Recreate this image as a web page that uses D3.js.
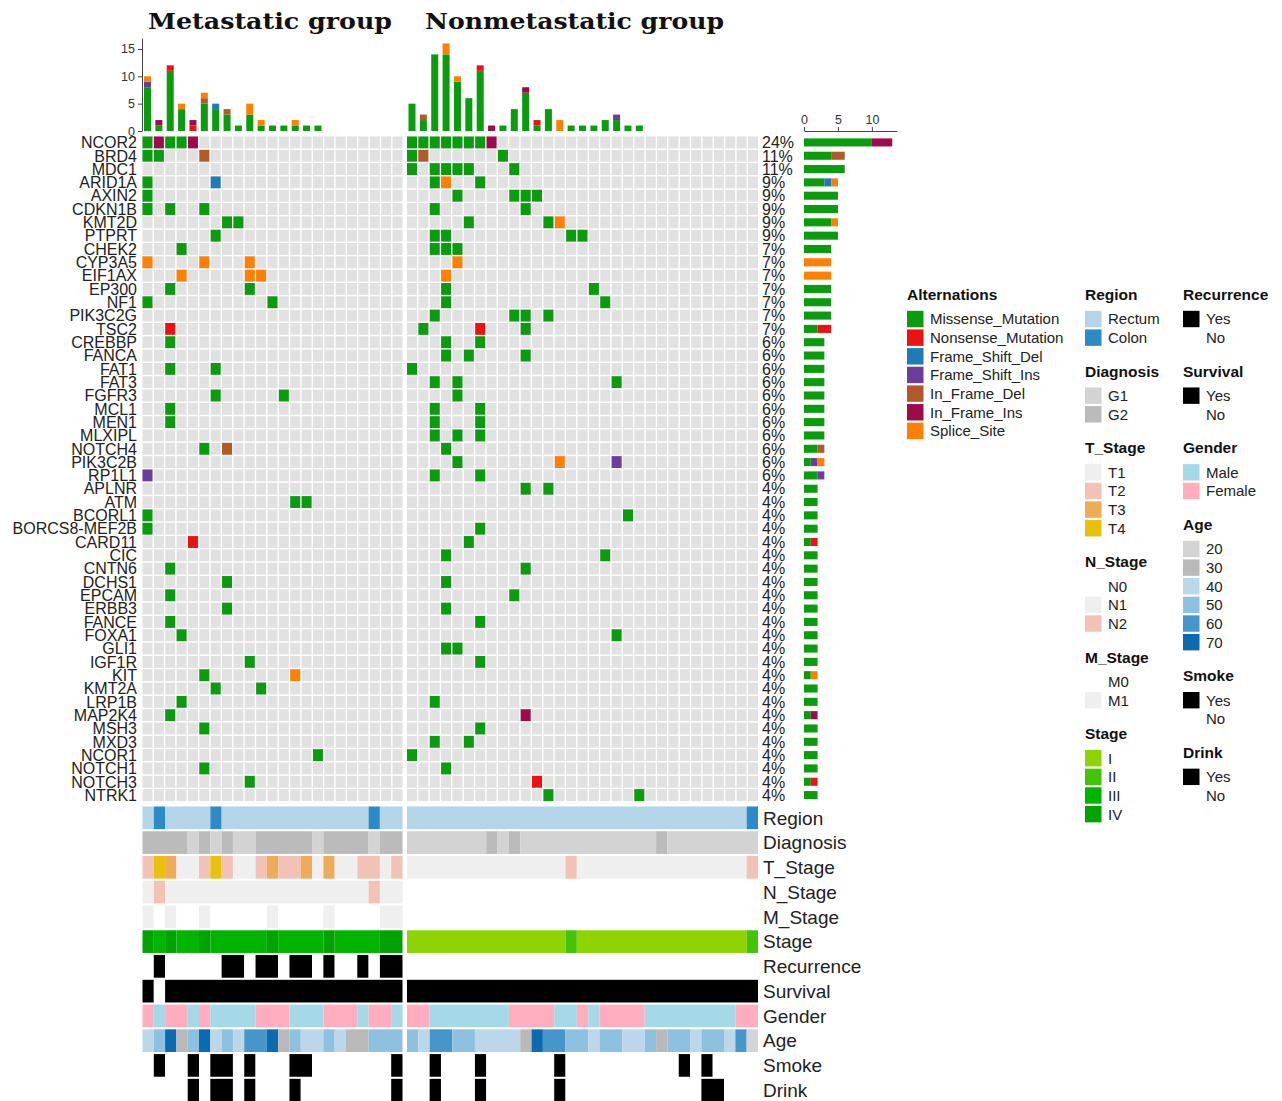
<!DOCTYPE html>
<html>
<head>
<meta charset="utf-8">
<script src="https://cdn.jsdelivr.net/npm/d3@7"></script>
<style>
  body { margin: 0; background: #fff; }
  text { font-family: "Liberation Sans", Arial, Helvetica, sans-serif; }
</style>
</head>
<body>
<svg id="chart" width="1282" height="1101"></svg>
<script>
// ---------- data ----------
const genes = ["NCOR2","BRD4","MDC1","ARID1A","AXIN2","CDKN1B","KMT2D","PTPRT","CHEK2","CYP3A5",
  "EIF1AX","EP300","NF1","PIK3C2G","TSC2","CREBBP","FANCA","FAT1","FAT3","FGFR3",
  "MCL1","MEN1","MLXIPL","NOTCH4","PIK3C2B","RP1L1","APLNR","ATM","BCORL1","BORCS8-MEF2B",
  "CARD11","CIC","CNTN6","DCHS1","EPCAM","ERBB3","FANCE","FOXA1","GLI1","IGF1R",
  "KIT","KMT2A","LRP1B","MAP2K4","MSH3","MXD3","NCOR1","NOTCH1","NOTCH3","NTRK1"];

const groupNames = ["Metastatic group", "Nonmetastatic group"];
const groupSizes = [23, 31];

const mutationTypes = ["Missense_Mutation","Nonsense_Mutation","Frame_Shift_Del","Frame_Shift_Ins",
  "In_Frame_Del","In_Frame_Ins","Splice_Site"];
const mutationCodes = ["MS","NS","FD","FI","ID","II","SS"];
const mutationColors = ["#0a9c0e","#ee1111","#1f7ab8","#6c3d9c","#b2592a","#9e0a4c","#ff7f00"];

// [gene, sample index in group, mutation code]
const metastaticMutations = [
  ["NCOR2",0,"MS"],["NCOR2",1,"II"],["NCOR2",2,"MS"],["NCOR2",3,"MS"],["NCOR2",4,"II"],
  ["BRD4",0,"MS"],["BRD4",1,"MS"],["BRD4",5,"ID"],
  ["ARID1A",0,"MS"],["ARID1A",6,"FD"],
  ["AXIN2",0,"MS"],
  ["CDKN1B",0,"MS"],["CDKN1B",2,"MS"],["CDKN1B",5,"MS"],
  ["KMT2D",7,"MS"],["KMT2D",8,"MS"],
  ["PTPRT",6,"MS"],
  ["CHEK2",3,"MS"],
  ["CYP3A5",0,"SS"],["CYP3A5",5,"SS"],["CYP3A5",9,"SS"],
  ["EIF1AX",3,"SS"],["EIF1AX",9,"SS"],["EIF1AX",10,"SS"],
  ["EP300",2,"MS"],["EP300",9,"MS"],
  ["NF1",0,"MS"],["NF1",11,"MS"],
  ["TSC2",2,"NS"],
  ["CREBBP",2,"MS"],
  ["FAT1",2,"MS"],["FAT1",6,"MS"],
  ["FGFR3",6,"MS"],["FGFR3",12,"MS"],
  ["MCL1",2,"MS"],
  ["MEN1",2,"MS"],
  ["NOTCH4",5,"MS"],["NOTCH4",7,"ID"],
  ["RP1L1",0,"FI"],
  ["ATM",13,"MS"],["ATM",14,"MS"],
  ["BCORL1",0,"MS"],
  ["BORCS8-MEF2B",0,"MS"],
  ["CARD11",4,"NS"],
  ["CNTN6",2,"MS"],
  ["DCHS1",7,"MS"],
  ["EPCAM",2,"MS"],
  ["ERBB3",7,"MS"],
  ["FANCE",2,"MS"],
  ["FOXA1",3,"MS"],
  ["IGF1R",9,"MS"],
  ["KIT",5,"MS"],["KIT",13,"SS"],
  ["KMT2A",6,"MS"],["KMT2A",10,"MS"],
  ["LRP1B",3,"MS"],
  ["MAP2K4",2,"MS"],
  ["MSH3",5,"MS"],
  ["NCOR1",15,"MS"],
  ["NOTCH1",5,"MS"],
  ["NOTCH3",9,"MS"]
];

const nonmetastaticMutations = [
  ["NCOR2",0,"MS"],["NCOR2",1,"MS"],["NCOR2",2,"MS"],["NCOR2",3,"MS"],["NCOR2",4,"MS"],
  ["NCOR2",5,"MS"],["NCOR2",6,"MS"],["NCOR2",7,"II"],
  ["BRD4",0,"MS"],["BRD4",1,"ID"],["BRD4",8,"MS"],
  ["MDC1",0,"MS"],["MDC1",2,"MS"],["MDC1",3,"MS"],["MDC1",4,"MS"],["MDC1",5,"MS"],["MDC1",9,"MS"],
  ["ARID1A",2,"MS"],["ARID1A",3,"SS"],["ARID1A",6,"MS"],
  ["AXIN2",4,"MS"],["AXIN2",9,"MS"],["AXIN2",10,"MS"],["AXIN2",11,"MS"],
  ["CDKN1B",2,"MS"],["CDKN1B",10,"MS"],
  ["KMT2D",5,"MS"],["KMT2D",12,"MS"],["KMT2D",13,"SS"],
  ["PTPRT",2,"MS"],["PTPRT",3,"MS"],["PTPRT",14,"MS"],["PTPRT",15,"MS"],
  ["CHEK2",2,"MS"],["CHEK2",3,"MS"],["CHEK2",4,"MS"],
  ["CYP3A5",4,"SS"],
  ["EIF1AX",3,"SS"],
  ["EP300",3,"MS"],["EP300",16,"MS"],
  ["NF1",3,"MS"],["NF1",17,"MS"],
  ["PIK3C2G",2,"MS"],["PIK3C2G",9,"MS"],["PIK3C2G",10,"MS"],["PIK3C2G",12,"MS"],
  ["TSC2",1,"MS"],["TSC2",6,"NS"],["TSC2",10,"MS"],
  ["CREBBP",3,"MS"],["CREBBP",6,"MS"],
  ["FANCA",3,"MS"],["FANCA",5,"MS"],["FANCA",10,"MS"],
  ["FAT1",0,"MS"],
  ["FAT3",2,"MS"],["FAT3",4,"MS"],["FAT3",18,"MS"],
  ["FGFR3",4,"MS"],
  ["MCL1",2,"MS"],["MCL1",6,"MS"],
  ["MEN1",2,"MS"],["MEN1",6,"MS"],
  ["MLXIPL",2,"MS"],["MLXIPL",4,"MS"],["MLXIPL",6,"MS"],
  ["NOTCH4",3,"MS"],
  ["PIK3C2B",4,"MS"],["PIK3C2B",13,"SS"],["PIK3C2B",18,"FI"],
  ["RP1L1",2,"MS"],["RP1L1",6,"MS"],
  ["APLNR",10,"MS"],["APLNR",12,"MS"],
  ["BCORL1",19,"MS"],
  ["BORCS8-MEF2B",6,"MS"],
  ["CARD11",5,"MS"],
  ["CIC",3,"MS"],["CIC",17,"MS"],
  ["CNTN6",10,"MS"],
  ["DCHS1",3,"MS"],
  ["EPCAM",9,"MS"],
  ["ERBB3",3,"MS"],
  ["FANCE",6,"MS"],
  ["FOXA1",18,"MS"],
  ["GLI1",3,"MS"],["GLI1",4,"MS"],
  ["IGF1R",6,"MS"],
  ["LRP1B",2,"MS"],
  ["MAP2K4",10,"II"],
  ["MSH3",6,"MS"],
  ["MXD3",2,"MS"],["MXD3",5,"MS"],
  ["NCOR1",0,"MS"],
  ["NOTCH1",3,"MS"],
  ["NOTCH3",11,"NS"],
  ["NTRK1",12,"MS"],["NTRK1",20,"MS"]
];

// clinical annotations, one value per sample
const regionMet = ["Rectum","Colon","Rectum","Rectum","Rectum","Rectum","Colon","Rectum","Rectum","Rectum","Rectum","Rectum","Rectum","Rectum","Rectum","Rectum","Rectum","Rectum","Rectum","Rectum","Colon","Rectum","Rectum"];
const regionNon = ["Rectum","Rectum","Rectum","Rectum","Rectum","Rectum","Rectum","Rectum","Rectum","Rectum","Rectum","Rectum","Rectum","Rectum","Rectum","Rectum","Rectum","Rectum","Rectum","Rectum","Rectum","Rectum","Rectum","Rectum","Rectum","Rectum","Rectum","Rectum","Rectum","Rectum","Colon"];
const diagnosisMet = ["G2","G2","G2","G2","G1","G2","G1","G2","G1","G1","G2","G2","G2","G2","G2","G1","G2","G2","G2","G2","G1","G2","G2"];
const diagnosisNon = ["G1","G1","G1","G1","G1","G1","G1","G2","G1","G2","G1","G1","G1","G1","G1","G1","G1","G1","G1","G1","G1","G1","G2","G1","G1","G1","G1","G1","G1","G1","G1"];
const tStageMet = ["T2","T4","T3","T1","T1","T2","T4","T2","T1","T1","T2","T3","T2","T2","T3","T1","T3","T1","T1","T2","T2","T1","T2"];
const tStageNon = ["T1","T1","T1","T1","T1","T1","T1","T1","T1","T1","T1","T1","T1","T1","T2","T1","T1","T1","T1","T1","T1","T1","T1","T1","T1","T1","T1","T1","T1","T1","T2"];
const nStageMet = ["N1","N2","N1","N1","N1","N1","N1","N1","N1","N1","N1","N1","N1","N1","N1","N1","N1","N1","N1","N1","N2","N1","N1"];
const nStageNon = ["N0","N0","N0","N0","N0","N0","N0","N0","N0","N0","N0","N0","N0","N0","N0","N0","N0","N0","N0","N0","N0","N0","N0","N0","N0","N0","N0","N0","N0","N0","N0"];
const mStageMet = ["M1","M0","M1","M0","M0","M1","M0","M0","M0","M0","M0","M1","M0","M0","M0","M0","M1","M0","M0","M0","M0","M1","M1"];
const mStageNon = ["M0","M0","M0","M0","M0","M0","M0","M0","M0","M0","M0","M0","M0","M0","M0","M0","M0","M0","M0","M0","M0","M0","M0","M0","M0","M0","M0","M0","M0","M0","M0"];
const stageMet = ["IV","III","IV","III","III","IV","III","III","III","III","III","IV","III","III","III","III","IV","III","III","III","III","IV","IV"];
const stageNon = ["I","I","I","I","I","I","I","I","I","I","I","I","I","I","II","I","I","I","I","I","I","I","I","I","I","I","I","I","I","I","II"];
const recurrenceMet = ["No","Yes","No","No","No","No","No","Yes","Yes","No","Yes","Yes","No","Yes","Yes","No","Yes","No","No","Yes","No","Yes","Yes"];
const recurrenceNon = ["No","No","No","No","No","No","No","No","No","No","No","No","No","No","No","No","No","No","No","No","No","No","No","No","No","No","No","No","No","No","No"];
const survivalMet = ["Yes","No","Yes","Yes","Yes","Yes","Yes","Yes","Yes","Yes","Yes","Yes","Yes","Yes","Yes","Yes","Yes","Yes","Yes","Yes","Yes","Yes","Yes"];
const survivalNon = ["Yes","Yes","Yes","Yes","Yes","Yes","Yes","Yes","Yes","Yes","Yes","Yes","Yes","Yes","Yes","Yes","Yes","Yes","Yes","Yes","Yes","Yes","Yes","Yes","Yes","Yes","Yes","Yes","Yes","Yes","Yes"];
const genderMet = ["Female","Male","Female","Female","Male","Female","Male","Male","Male","Male","Female","Female","Female","Male","Male","Male","Female","Female","Female","Male","Female","Female","Male"];
const genderNon = ["Female","Female","Male","Male","Male","Male","Male","Male","Male","Female","Female","Female","Female","Male","Male","Female","Male","Female","Female","Female","Female","Male","Male","Male","Male","Male","Male","Male","Male","Female","Female"];
const ageMet = [40,50,70,30,50,70,40,50,40,60,60,70,30,50,40,40,50,40,30,30,50,50,50];
const ageNon = [50,40,60,60,50,50,40,40,40,40,30,70,60,60,50,50,40,50,50,40,40,50,30,50,50,40,50,50,40,60,20];
const smokeMet = ["No","Yes","No","No","Yes","No","Yes","Yes","No","Yes","No","No","No","Yes","Yes","No","No","No","No","No","No","No","Yes"];
const smokeNon = ["No","No","Yes","No","No","No","Yes","No","No","No","No","No","No","Yes","No","No","No","No","No","No","No","No","No","No","Yes","No","Yes","No","No","No","No"];
const drinkMet = ["No","No","No","No","Yes","No","Yes","Yes","No","Yes","No","No","No","Yes","No","No","No","No","No","No","No","No","Yes"];
const drinkNon = ["No","No","Yes","No","No","No","Yes","No","No","No","No","No","No","Yes","No","No","No","No","No","No","No","No","No","No","No","No","Yes","Yes","No","No","No"];

const trackNames = ["Region","Diagnosis","T_Stage","N_Stage","M_Stage","Stage","Recurrence","Survival","Gender","Age","Smoke","Drink"];
const trackValues = [
  [regionMet, regionNon], [diagnosisMet, diagnosisNon], [tStageMet, tStageNon], [nStageMet, nStageNon],
  [mStageMet, mStageNon], [stageMet, stageNon], [recurrenceMet, recurrenceNon], [survivalMet, survivalNon],
  [genderMet, genderNon], [ageMet, ageNon], [smokeMet, smokeNon], [drinkMet, drinkNon]
];

// legend categories and colours for each clinical track
const regionLevels = ["Rectum","Colon"], regionColors = ["#b4d4e7","#2c8ac6"];
const diagnosisLevels = ["G1","G2"], diagnosisColors = ["#d3d3d3","#bbbbbb"];
const tStageLevels = ["T1","T2","T3","T4"], tStageColors = ["#efefef","#f3c2b7","#eeac5a","#e9c00e"];
const nStageLevels = ["N0","N1","N2"], nStageColors = ["#ffffff","#efefef","#f3c2b7"];
const mStageLevels = ["M0","M1"], mStageColors = ["#ffffff","#efefef"];
const stageLevels = ["I","II","III","IV"], stageColors = ["#8dd400","#45c20a","#00b400","#00a300"];
const yesNoLevels = ["Yes","No"], yesNoColors = ["#000000","#ffffff"];
const genderLevels = ["Male","Female"], genderColors = ["#a6d9e7","#ffadbf"];
const ageLevels = [20,30,40,50,60,70], ageColors = ["#d4d4d4","#b9b9b9","#bdd7ea","#8ec1e0","#4796cb","#0b6ab0"];

const trackScales = [
  [regionLevels, regionColors], [diagnosisLevels, diagnosisColors], [tStageLevels, tStageColors],
  [nStageLevels, nStageColors], [mStageLevels, mStageColors], [stageLevels, stageColors],
  [yesNoLevels, yesNoColors], [yesNoLevels, yesNoColors], [genderLevels, genderColors],
  [ageLevels, ageColors], [yesNoLevels, yesNoColors], [yesNoLevels, yesNoColors]
].map(([d, r]) => d3.scaleOrdinal().domain(d).range(r));

const topTicks = [0, 5, 10, 15];
const sideTicks = [0, 5, 10];

// ---------- scales ----------
const svg = d3.select("#chart");
const totalSamples = d3.sum(groupSizes);
const typeColor = d3.scaleOrdinal().domain(mutationCodes).range(mutationColors);

const panelRanges = [[142.5, 402.5], [407, 758]];
const xCell = groupSizes.map((n, i) => d3.scaleBand().domain(d3.range(n)).range(panelRanges[i]).paddingInner(0.12));
const xAnno = groupSizes.map((n, i) => d3.scaleBand().domain(d3.range(n)).range(panelRanges[i]));
const yGene = d3.scaleBand().domain(genes).range([136.5, 801]).paddingInner(0.11);
const yTop = d3.scaleLinear().domain([0, 17]).range([131, 38]);
const xSide = d3.scaleLinear().domain([0, 13.7]).range([804, 897]);
const yTrack = d3.scaleBand().domain(trackNames).range([806.5, 1101.5]).paddingInner(0.085);

const groupMutations = [metastaticMutations, nonmetastaticMutations];

// ---------- group titles ----------
const titleSpecs = [[270, 244], [574.5, 299]];
groupNames.forEach((name, i) => {
  svg.append("text")
    .attr("x", titleSpecs[i][0] - titleSpecs[i][1] / 2)
    .attr("y", 28.5)
    .attr("textLength", titleSpecs[i][1])
    .attr("lengthAdjust", "spacingAndGlyphs")
    .style("font-family", "'DejaVu Serif', 'Liberation Serif', serif")
    .style("font-weight", "bold")
    .style("font-size", "22px")
    .attr("fill", "#111")
    .text(name);
});

// ---------- oncoprint grid ----------
groupSizes.forEach((n, gi) => {
  const g = svg.append("g");
  const x = xCell[gi];
  genes.forEach(gene => {
    g.selectAll(null).data(d3.range(n)).join("rect")
      .attr("x", d => x(d)).attr("y", yGene(gene))
      .attr("width", x.bandwidth()).attr("height", yGene.bandwidth())
      .attr("fill", "#e1e1e1");
  });
  g.selectAll(null).data(groupMutations[gi]).join("rect")
    .attr("x", d => x(d[1])).attr("y", d => yGene(d[0]))
    .attr("width", x.bandwidth()).attr("height", yGene.bandwidth())
    .attr("fill", d => typeColor(d[2]));
});

// ---------- mutations per sample (top bars) ----------
groupSizes.forEach((n, gi) => {
  const x = xCell[gi];
  const rows = d3.range(n).map(s => {
    const row = { sample: s };
    mutationCodes.forEach(c => row[c] = 0);
    groupMutations[gi].filter(m => m[1] === s).forEach(m => row[m[2]] += 1);
    return row;
  });
  const stacked = d3.stack().keys(mutationCodes)(rows);
  const bw = x.bandwidth() * 0.7;
  svg.append("g").selectAll("g").data(stacked).join("g")
    .attr("fill", d => typeColor(d.key))
    .selectAll("rect").data(d => d.filter(v => v[1] > v[0])).join("rect")
      .attr("x", d => x(d.data.sample) + (x.bandwidth() - bw) / 2)
      .attr("y", d => yTop(d[1]))
      .attr("width", bw)
      .attr("height", d => yTop(d[0]) - yTop(d[1]));
});

const topAxis = svg.append("g").attr("transform", "translate(142,0)")
  .call(d3.axisLeft(yTop).tickValues(topTicks).tickSize(4).tickSizeOuter(0));
topAxis.select(".domain").attr("stroke", "#444");
topAxis.selectAll(".tick line").attr("stroke", "#444");
topAxis.selectAll("text").style("font-size", "12.5px").attr("fill", "#333");

// ---------- gene labels & frequencies ----------
const geneCounts = genes.map(gene =>
  d3.merge(groupMutations).filter(m => m[0] === gene));

svg.append("g").selectAll("text").data(genes).join("text")
  .attr("x", 137).attr("y", d => yGene(d) + yGene.bandwidth() / 2)
  .attr("dy", "0.36em").attr("text-anchor", "end")
  .style("font-size", "16px").attr("fill", "#222")
  .text(d => d);

svg.append("g").selectAll("text").data(genes).join("text")
  .attr("x", 762).attr("y", d => yGene(d) + yGene.bandwidth() / 2)
  .attr("dy", "0.36em")
  .style("font-size", "16px").attr("fill", "#222")
  .text((d, i) => Math.round(geneCounts[i].length / totalSamples * 100) + "%");

// ---------- mutations per gene (side bars) ----------
const sideRows = genes.map((gene, i) => {
  const row = { gene };
  mutationCodes.forEach(c => row[c] = 0);
  geneCounts[i].forEach(m => row[m[2]] += 1);
  return row;
});
const sideStack = d3.stack().keys(mutationCodes)(sideRows);
const sideH = yGene.bandwidth() * 0.68;
svg.append("g").selectAll("g").data(sideStack).join("g")
  .attr("fill", d => typeColor(d.key))
  .selectAll("rect").data(d => d.filter(v => v[1] > v[0])).join("rect")
    .attr("x", d => xSide(d[0]))
    .attr("y", d => yGene(d.data.gene) + (yGene.bandwidth() - sideH) / 2)
    .attr("width", d => xSide(d[1]) - xSide(d[0]))
    .attr("height", sideH);

const sideAxis = svg.append("g").attr("transform", "translate(0,131)")
  .call(d3.axisTop(xSide).tickValues(sideTicks).tickSize(4).tickSizeOuter(0));
sideAxis.select(".domain").attr("stroke", "#444");
sideAxis.selectAll(".tick line").attr("stroke", "#444");
sideAxis.selectAll("text").style("font-size", "12.5px").attr("fill", "#333");

// ---------- clinical annotation tracks ----------
// consecutive samples sharing a value are drawn as one block
function runsOf(values) {
  const runs = [];
  values.forEach((v, i) => {
    const last = runs[runs.length - 1];
    if (last && last.value === v) last.end = i;
    else runs.push({ value: v, start: i, end: i });
  });
  return runs;
}

trackNames.forEach((name, ti) => {
  const color = trackScales[ti];
  groupSizes.forEach((n, gi) => {
    const x = xAnno[gi];
    svg.append("g").selectAll("rect").data(runsOf(trackValues[ti][gi])).join("rect")
      .attr("x", d => x(d.start))
      .attr("y", yTrack(name))
      .attr("width", d => x(d.end) + x.bandwidth() - x(d.start))
      .attr("height", yTrack.bandwidth())
      .attr("fill", d => color(d.value));
  });
  svg.append("text")
    .attr("x", 763).attr("y", yTrack(name) + yTrack.bandwidth() / 2)
    .attr("dy", "0.36em")
    .style("font-size", "19px").attr("fill", "#222")
    .text(name);
});

// ---------- legends ----------
function legendBlock(x, yTitle, title, labels, colors) {
  const g = svg.append("g");
  g.append("text").attr("x", x).attr("y", yTitle + 5)
    .style("font-size", "15.5px").style("font-weight", "bold").attr("fill", "#111")
    .text(title);
  labels.forEach((lab, i) => {
    const cy = yTitle + 24 + i * 18.65;
    g.append("rect").attr("x", x).attr("y", cy - 8.2).attr("width", 16.5).attr("height", 16.4)
      .attr("fill", colors[i]);
    g.append("text").attr("x", x + 23).attr("y", cy).attr("dy", "0.36em")
      .style("font-size", "15px").attr("fill", "#222").text(lab);
  });
  return yTitle + 24 + (labels.length - 1) * 18.65 + 34;
}

legendBlock(907, 295, "Alternations", mutationTypes, mutationColors);

let ly = 295;
[["Region", regionLevels, regionColors], ["Diagnosis", diagnosisLevels, diagnosisColors],
 ["T_Stage", tStageLevels, tStageColors], ["N_Stage", nStageLevels, nStageColors],
 ["M_Stage", mStageLevels, mStageColors], ["Stage", stageLevels, stageColors]]
  .forEach(([t, l, c]) => { ly = legendBlock(1085, ly, t, l, c); });

ly = 295;
[["Recurrence", yesNoLevels, yesNoColors], ["Survival", yesNoLevels, yesNoColors],
 ["Gender", genderLevels, genderColors], ["Age", ageLevels, ageColors],
 ["Smoke", yesNoLevels, yesNoColors], ["Drink", yesNoLevels, yesNoColors]]
  .forEach(([t, l, c]) => { ly = legendBlock(1183, ly, t, l, c); });
</script>
</body>
</html>
